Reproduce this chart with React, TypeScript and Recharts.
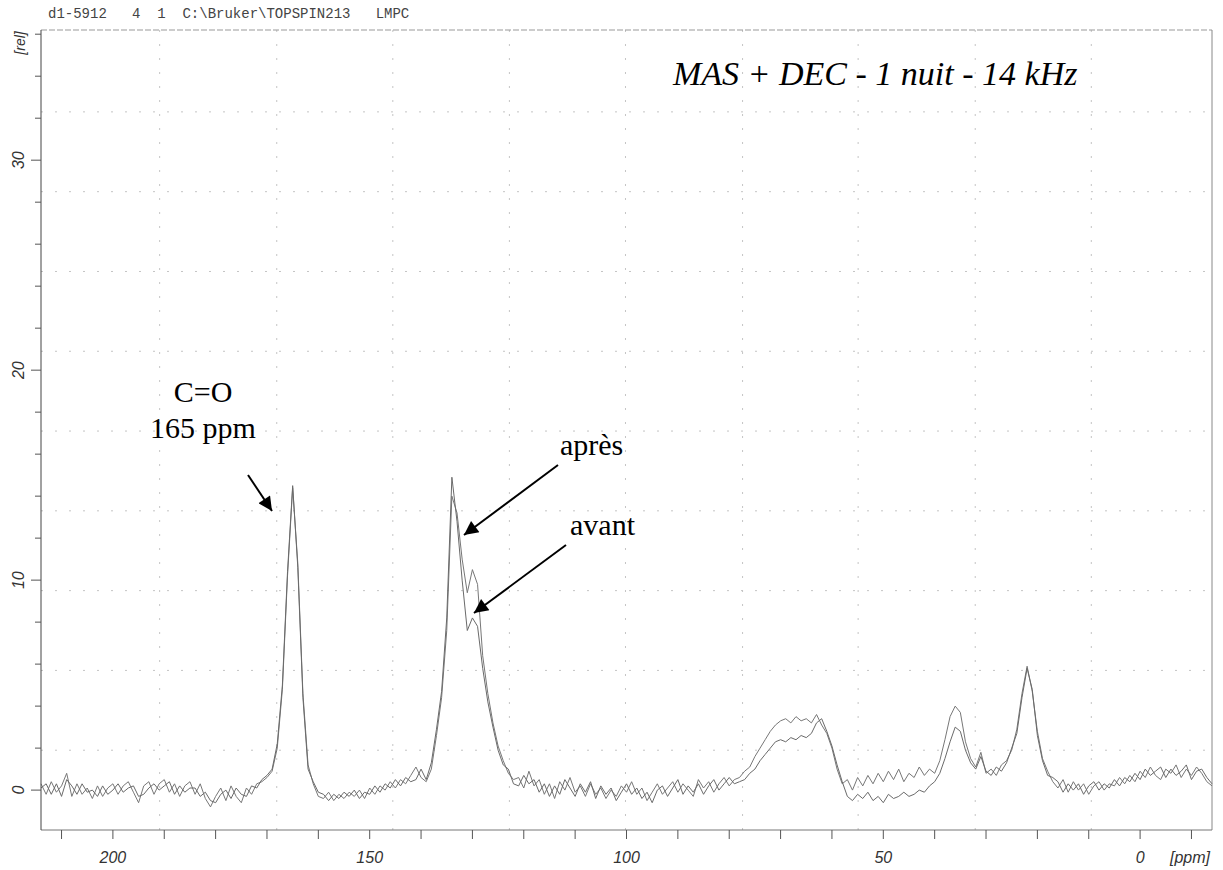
import { Line, LineChart, ReferenceLine, XAxis, YAxis } from "recharts"

// spectrum sampled every 1 ppm, from 214 ppm down to -14 ppm
const ppmStart = 214

// prettier-ignore
const avant = [
  0.3, -0.2, 0.4, -0.1, 0.2, 0.8, -0.3, 0.3, -0.2, 0.1,
  -0.4, 0.2, -0.3, 0.1, 0.3, -0.2, 0.2, 0.4, -0.1, -0.6,
  0.2, 0.4, -0.2, 0.3, 0.5, -0.1, 0.3, -0.3, 0.2, 0.4,
  -0.2, 0.3, -0.4, -0.8, -0.3, 0.1, -0.5, 0.2, -0.3, -0.6,
  0.1, -0.2, 0.3, 0.4,
  0.6, 0.9, 2.0, 4.8, 10.2, 14.4, 10.8, 4.6, 1.2, 0.3, -0.3,
  -0.4, -0.1, -0.5, -0.2, -0.4, -0.1, -0.3, 0.0, -0.4, 0.1,
  -0.2, 0.2, 0.0, 0.4, 0.1, 0.5, 0.3, 0.7, 1.1, 0.6, 0.4,
  1.0, 2.6, 4.4, 7.6, 14.0, 13.2, 11.0, 9.4, 10.5, 9.8,
  6.4, 4.6, 3.2, 2.1, 1.4, 0.8, 0.5,
  0.6, 0.1, 0.9, 0.2, 0.5, -0.2, 0.3, -0.4, 0.4, 0.0,
  0.6, -0.1, 0.2, -0.3, 0.3, -0.2, 0.1, -0.4, 0.0, -0.3,
  0.2, -0.1, 0.4, -0.2, 0.1, -0.5, -0.1, 0.3, -0.2, 0.1,
  0.4, -0.1, 0.3, 0.0, -0.3, 0.5, 0.1, 0.4, -0.1, 0.3,
  0.6, 0.2, 0.5,
  0.6, 0.9, 1.1, 1.6, 2.0, 2.4, 2.8, 3.1, 3.3, 3.4,
  3.2, 3.5, 3.3, 3.4, 3.2, 3.6, 3.1, 2.7, 2.0, 1.0, 0.3,
  0.5, 0.0, 0.6, 0.2, 0.7, 0.3, 0.8, 0.4, 0.9, 0.5,
  1.0, 0.4, 0.8, 0.6, 1.1, 0.7, 1.0, 0.8,
  1.4, 2.4, 3.5, 4.0, 3.7, 2.3, 1.5, 1.1, 1.8, 0.8,
  1.0, 0.7, 1.2, 1.4, 1.9, 2.9, 4.6, 5.9, 4.7, 2.8,
  1.5, 0.9, 0.4,
  0.1, 0.5, -0.1, 0.4, 0.0, 0.3, -0.2, 0.2, 0.4, 0.0,
  0.3, 0.2, 0.6, 0.3, 0.7, 0.4, 0.9, 0.6, 1.1, 0.7,
  0.5, 1.0, 0.8, 1.2, 0.6, 1.0, 0.7, 1.1, 0.8, 0.4,
  0.2,
]

// prettier-ignore
const apres = [
  0.1, 0.3, -0.2, 0.3, -0.3, 0.5, 0.2, -0.2, 0.3, -0.1,
  0.0, -0.3, 0.2, -0.2, 0.0, 0.3, -0.1, 0.1, 0.2, -0.3,
  -0.2, 0.1, 0.3, 0.0, 0.2, 0.4, -0.2, 0.2, -0.1, 0.1,
  0.1, -0.3, -0.1, -0.5, -0.6, -0.2, 0.0, -0.4, 0.1, -0.2,
  -0.3, 0.2, 0.1, 0.5,
  0.7, 1.0, 2.2, 5.0, 10.4, 14.5, 10.6, 4.4, 1.0, 0.4, -0.1,
  -0.2, -0.5, -0.2, -0.4, -0.1, -0.3, 0.0, -0.4, -0.1, -0.2,
  0.2, -0.1, 0.3, 0.1, 0.5, 0.2, 0.6, 0.4, 0.5, 1.0, 0.5,
  1.3, 2.9, 4.7, 8.2, 14.9, 12.8, 10.0, 7.6, 8.2, 7.8,
  5.8, 4.2, 3.0, 1.9, 1.2, 1.0, 0.3,
  0.2, 0.7, 0.3, 0.5, -0.1, 0.3, -0.3, 0.2, -0.2, 0.5,
  0.1, -0.3, 0.3, -0.1, 0.4, -0.4, 0.2, -0.2, 0.1, -0.5,
  -0.1, 0.3, -0.2, 0.1, -0.4, -0.1, -0.6, 0.0, 0.2, -0.3,
  0.1, 0.5, -0.2, 0.2, -0.1, 0.3, -0.2, 0.2, 0.5, 0.0,
  0.3, 0.6, 0.3,
  0.4, 0.5, 0.8, 1.0, 1.4, 1.7, 2.0, 2.3, 2.4, 2.3,
  2.5, 2.4, 2.6, 2.5, 2.7, 3.2, 3.4, 2.8, 2.1, 1.2, 0.4,
  -0.3, -0.5, -0.2, -0.4, -0.1, -0.5, -0.3, -0.6, -0.2, -0.4,
  -0.3, -0.1, -0.3, -0.2, 0.0, -0.1, 0.2, 0.4,
  0.8, 1.5, 2.3, 3.0, 2.8, 1.9, 1.3, 1.0, 1.6, 0.9,
  0.7, 1.1, 0.9, 1.3, 2.0, 2.7, 4.4, 5.8, 4.8, 2.6,
  1.4, 0.7, 0.6,
  0.4, -0.1, 0.3, 0.0, 0.3, -0.2, 0.2, 0.4, 0.0, 0.3,
  0.1, 0.5, 0.2, 0.6, 0.4, 0.8, 0.5, 1.0, 0.7, 0.9,
  1.1, 0.6, 1.0, 0.7, 0.9, 1.2, 0.5, 0.9, 1.0, 0.6,
  0.3,
]

const xTicks = [210, 200, 190, 180, 170, 160, 150, 140, 130, 120, 110, 100, 90, 80, 70, 60, 50, 40, 30, 20, 10, 0, -10]
const xLabels = [200, 150, 100, 50, 0]
const yTicks = [0, 2, 4, 6, 8, 10, 12, 14, 16, 18, 20, 22, 24, 26, 28, 30, 32, 34, 36]
const yLabels = [0, 10, 20, 30]
// faint dotted grid of the plotter, not aligned with the ticks
const gridPpm = [190.9, 168.1, 145.5, 122.8, 100.2, 77.4, 54.9, 32.1, 9.5]
const gridRel = [1.9, 5.7, 9.5, 13.3, 17.1, 20.9, 24.7, 28.5, 32.3]

const header = "d1-5912   4  1  C:\\Bruker\\TOPSPIN213   LMPC"

const rows = avant.map((v, i) => ({ ppm: ppmStart - i, avant: v, apres: apres[i] }))

const axisFont = "'Liberation Sans', Arial, sans-serif"
const serif = "'Liberation Serif', 'Times New Roman', serif"

function XTick({ x, y, payload }: any) {
  const v = payload.value
  return (
    <g>
      <line x1={x} x2={x} y1={y} y2={y + 9} stroke="#555" strokeWidth={1} />
      {xLabels.includes(v) && (
        <text x={x} y={y + 33} textAnchor="middle" fontSize={16} fontStyle="italic" fontFamily={axisFont} fill="#333">
          {v}
        </text>
      )}
    </g>
  )
}

function YTick({ x, y, payload }: any) {
  const v = payload.value
  const major = yLabels.includes(v)
  return (
    <g>
      <line x1={x - (major ? 10 : 6)} x2={x} y1={y} y2={y} stroke="#555" strokeWidth={1} />
      {major && (
        <text
          x={19}
          y={y}
          transform={`rotate(-90 19 ${y})`}
          textAnchor="middle"
          dominantBaseline="central"
          fontSize={16}
          fontStyle="italic"
          fontFamily={axisFont}
          fill="#333"
        >
          {v}
        </text>
      )}
    </g>
  )
}

export default function App() {
  return (
    <div style={{ position: "fixed", left: 0, top: 0, width: 1223, height: 870, background: "#fff" }}>
      <LineChart width={1223} height={870} data={rows} margin={{ top: 30, right: 11, bottom: 0, left: 0 }}>
        {gridPpm.map((p) => (
          <ReferenceLine key={"gx" + p} x={p} stroke="#c4c4c4" strokeDasharray="2 12" />
        ))}
        {gridRel.map((r) => (
          <ReferenceLine key={"gy" + r} y={r} stroke="#c4c4c4" strokeDasharray="2 12" />
        ))}
        <XAxis
          dataKey="ppm"
          type="number"
          domain={[-14, 214]}
          reversed
          ticks={xTicks}
          interval={0}
          height={40}
          tickSize={0}
          tickMargin={0}
          tickLine={false}
          tick={<XTick />}
          stroke="#777"
        />
        <YAxis
          type="number"
          domain={[-1.9, 36.2]}
          ticks={yTicks}
          interval={0}
          width={41}
          tickSize={0}
          tickMargin={0}
          tickLine={false}
          tick={<YTick />}
          stroke="#444"
        />
        <ReferenceLine y={36.2} stroke="#999" strokeDasharray="6 2" ifOverflow="visible" />
        <ReferenceLine x={-14} stroke="#888" ifOverflow="visible" />
        <Line type="linear" dataKey="avant" stroke="#777" strokeWidth={1} dot={false} isAnimationActive={false} />
        <Line type="linear" dataKey="apres" stroke="#6a6a6a" strokeWidth={1} dot={false} isAnimationActive={false} />
      </LineChart>
      <svg width={1223} height={870} style={{ position: "absolute", left: 0, top: 0, pointerEvents: "none" }}>
        <defs>
          <marker id="head" viewBox="0 0 10 10" refX="10" refY="5" markerWidth="9" markerHeight="7" orient="auto" markerUnits="strokeWidth">
            <path d="M0,0 L10,5 L0,10 z" fill="#000" />
          </marker>
        </defs>
        <text x={48} y={18} fontSize={14} fontFamily="'Liberation Mono', 'Courier New', monospace" fill="#444" style={{ whiteSpace: "pre" }}>
          {header}
        </text>
        <text
          x={20}
          y={43}
          transform="rotate(-90 20 43)"
          textAnchor="middle"
          dominantBaseline="central"
          fontSize={14}
          fontStyle="italic"
          fontFamily={axisFont}
          fill="#333"
        >
          [rel]
        </text>
        <text x={1190} y={863} textAnchor="middle" fontSize={16} fontStyle="italic" fontFamily={axisFont} fill="#333">
          [ppm]
        </text>
        <text x={673} y={85} fontSize={34} fontStyle="italic" fontFamily={serif} fill="#000">
          MAS + DEC - 1 nuit - 14 kHz
        </text>
        <text x={203} y={402} textAnchor="middle" fontSize={30} fontFamily={serif} fill="#000">
          C=O
        </text>
        <text x={203} y={438} textAnchor="middle" fontSize={30} fontFamily={serif} fill="#000">
          165 ppm
        </text>
        <text x={560} y={455} fontSize={30} fontFamily={serif} fill="#000">
          après
        </text>
        <text x={570} y={535} fontSize={30} fontFamily={serif} fill="#000">
          avant
        </text>
        <line x1={248} y1={475} x2={272} y2={511} stroke="#000" strokeWidth={2} markerEnd="url(#head)" />
        <line x1={558} y1={465} x2={464} y2={535} stroke="#000" strokeWidth={2} markerEnd="url(#head)" />
        <line x1={566} y1={545} x2={474} y2={613} stroke="#000" strokeWidth={2} markerEnd="url(#head)" />
      </svg>
    </div>
  )
}
